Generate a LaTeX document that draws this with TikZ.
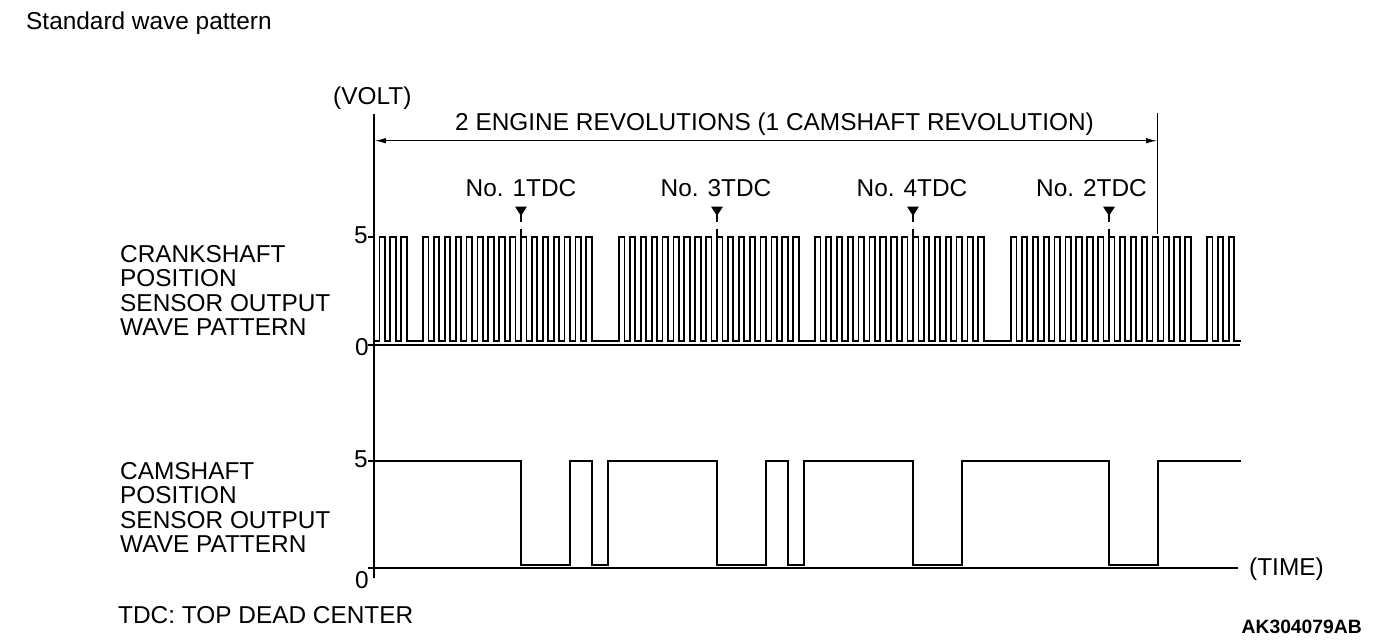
\documentclass[tikz,border=0pt]{standalone}
\usepackage{fontspec}
\setmainfont{Liberation Sans}
\usetikzlibrary{arrows.meta}
\begin{document}
\begin{tikzpicture}[x=1pt,y=-1pt,
  lbl/.style={inner sep=0pt, anchor=base west, font=\fontsize{24.4}{24.4}\selectfont},
  clbl/.style={inner sep=0pt, anchor=base, font=\fontsize{24.4}{24.4}\selectfont},
  numlbl/.style={inner sep=0pt, anchor=base east, font=\fontsize{24.4}{24.4}\selectfont},
  wave/.style={line width=1.7pt, line join=miter, line cap=rect},
  axisline/.style={line width=2pt},
  thin/.style={line width=1.1pt},
  tdcmark/.style={fill=black, draw=none},
  revarrow/.style={line width=1.1pt, {Latex[length=11pt,width=5.5pt]}-{Latex[length=11pt,width=5.5pt]}}
]
\useasboundingbox (0,0) rectangle (1392,642);
\pgfmathsetmacro{\CrX}{412.1}
\pgfmathsetmacro{\CrP}{10.889}
\pgfmathsetmacro{\CrH}{5.444}

% texts
\node[lbl] (title) at (26,30) {Standard wave pattern};
\node[lbl] (volt) at (333,104) {(VOLT)};
\node[clbl] (rev) at (774.5,130) {2 ENGINE REVOLUTIONS (1 CAMSHAFT REVOLUTION)};
\node[clbl] (tdc1) at (521,196) {No. 1TDC};
\node[clbl] (tdc3) at (716,196) {No. 3TDC};
\node[clbl] (tdc4) at (912,196) {No. 4TDC};
\node[clbl] (tdc2) at (1091.5,196) {No. 2TDC};

\node[lbl] (cr1) at (120,262) {CRANKSHAFT};
\node[lbl] (cr2) at (120,286.6) {POSITION};
\node[lbl] (cr3) at (120,311.2) {SENSOR OUTPUT};
\node[lbl] (cr4) at (120,335.8) {WAVE PATTERN};

\node[lbl] (cm1) at (120,479) {CAMSHAFT};
\node[lbl] (cm2) at (120,503.6) {POSITION};
\node[lbl] (cm3) at (120,528.2) {SENSOR OUTPUT};
\node[lbl] (cm4) at (120,552.8) {WAVE PATTERN};

\node[numlbl] (cr5) at (368,243) {5};
\node[numlbl] (cr0) at (369,355) {0};
\node[numlbl] (cm5) at (368,467) {5};
\node[numlbl] (cm0) at (369,588) {0};

\node[lbl] (time) at (1249,575) {(TIME)};
\node[lbl] (tdcnote) at (118,623) {TDC: TOP DEAD CENTER};
\node[inner sep=0pt, anchor=base east, font=\fontsize{19.3}{19.3}\selectfont\bfseries] (code) at (1362,633) {AK304079AB};

% axes
\coordinate (axtop) at (374,114);
\coordinate (axbot) at (374,578);
\draw[axisline] (axtop) -- (axbot);
\coordinate (crz0) at (368,345);
\coordinate (crz1) at (1240,345);
\draw[axisline] (crz0) -- (crz1);
\coordinate (cmz0) at (368,568);
\coordinate (cmz1) at (1238,568);
\draw[thin] (cmz0) -- (cmz1);
\coordinate (cr5a) at (368,237);
\coordinate (cr5b) at (374,237);
\draw[thin] (cr5a) -- (cr5b);
\coordinate (cm5a) at (368,461);
\coordinate (cm5b) at (374,461);
\draw[thin] (cm5a) -- (cm5b);

% revolution span
\coordinate (revL) at (374.8,140.7);
\coordinate (revR) at (1157,140.7);
\draw[revarrow] (revL) -- (revR);
\coordinate (rvt) at (1157.5,113);
\coordinate (rvb) at (1157.5,234);
\draw[thin] (rvt) -- (rvb);

% TDC markers
\foreach \x in {521,717,913,1109}{
  \fill[tdcmark] (\x-6,206.5) -- (\x+6,206.5) -- (\x,216) -- cycle;
  \draw[thin] (\x,215) -- (\x,222);
  \draw[thin] (\x,229) -- (\x,237);
}

% crankshaft wave
\draw[wave] (374,341)
  \foreach \k in {-3,-2,-1,1,2,...,16,19,20,...,35,37,38,...,52,55,56,...,71,73,74,75}{
    -- ({\CrX+\k*\CrP},341) -- ++(0,-104) -- ++(\CrH,0) -- ++(0,104)
  } -- (1240,341);

% camshaft wave
\draw[wave] (374,461) -| (521,565) -| (570,461) -| (591.8,565) -| (608.1,461)
  -| (717,565) -| (766,461) -| (787.8,565) -| (804.1,461)
  -| (913,565) -| (962,461) -| (1109,565) -| (1158,461) -- (1240,461);
\end{tikzpicture}
\end{document}
